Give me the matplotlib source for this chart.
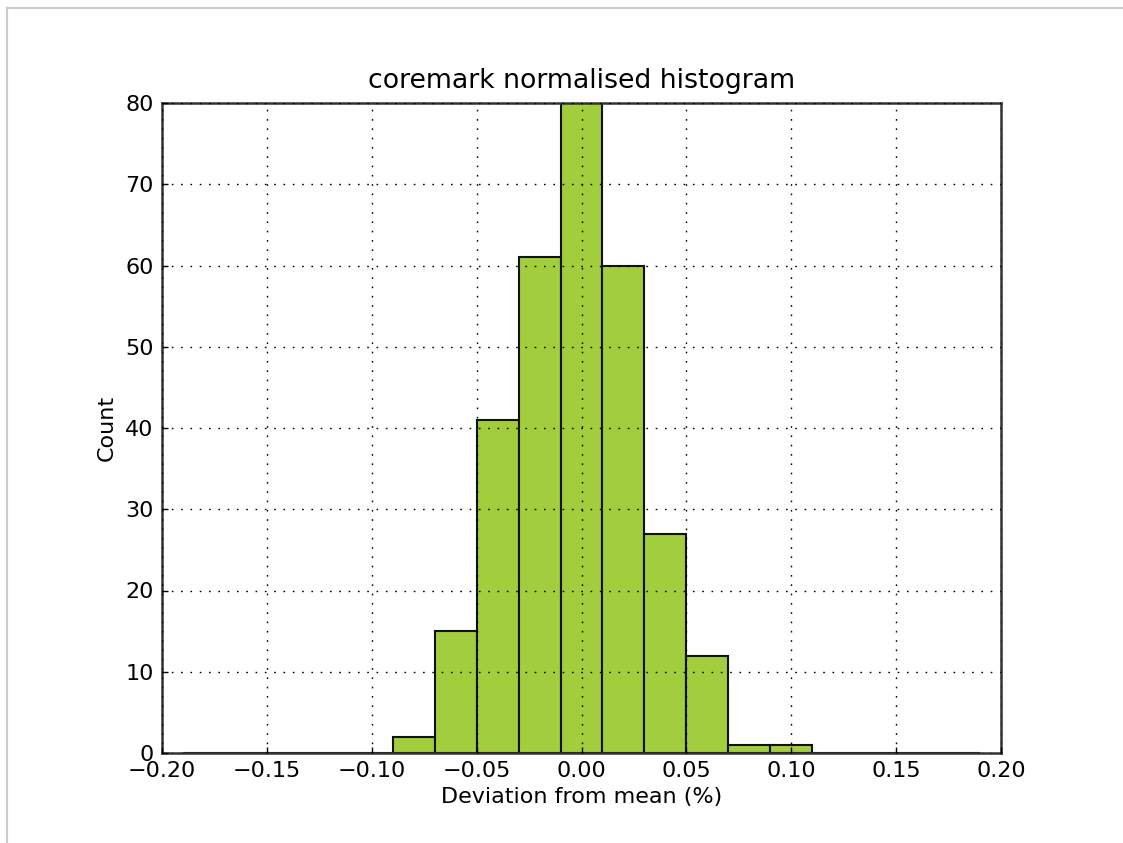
import matplotlib
matplotlib.use("Agg")
import matplotlib.pyplot as plt
from matplotlib.lines import Line2D
import numpy as np

# Data
bin_edges = [-0.19, -0.17, -0.15, -0.13, -0.11, -0.09, -0.07, -0.05, -0.03, -0.01,
             0.01, 0.03, 0.05, 0.07, 0.09, 0.11, 0.13, 0.15, 0.17, 0.19]
counts = [0, 0, 0, 0, 0, 2, 15, 41, 61, 80, 60, 27, 12, 1, 1, 0, 0, 0, 0]
x_ticks = [-0.20, -0.15, -0.10, -0.05, 0.00, 0.05, 0.10, 0.15, 0.20]
y_ticks = [0, 10, 20, 30, 40, 50, 60, 70, 80]
title = "coremark normalised histogram"
xlabel = "Deviation from mean (%)"
ylabel = "Count"

W, H = 1123, 843
fig = plt.figure(figsize=(W / 100, H / 100), dpi=100)
fig.patch.set_facecolor("white")

# light frame lines (top and left) as in the screenshot
fig.add_artist(Line2D([7 / W, 1], [1 - 7.5 / H, 1 - 7.5 / H], color="#cccccc", lw=1.5,
                      transform=fig.transFigure))
fig.add_artist(Line2D([7 / W, 7 / W], [0, 1 - 7.5 / H], color="#cccccc", lw=1.5,
                      transform=fig.transFigure))

left, right, top, bottom = 162, 1001, 103, 753
ax = fig.add_axes([left / W, 1 - bottom / H, (right - left) / W, (bottom - top) / H])

centers = [(bin_edges[i] + bin_edges[i + 1]) / 2 for i in range(len(counts))]
ax.hist(centers, bins=bin_edges, weights=counts, color="#a2ce3e",
        edgecolor="#111111", linewidth=1.5)

ax.set_xlim(-0.20, 0.20)
ax.set_ylim(0, 80)
ax.set_xticks(x_ticks)
ax.set_yticks(y_ticks)
ax.set_xticklabels([f"{v:.2f}".replace("-", "\u2212") for v in x_ticks])
ax.set_axisbelow(False)
ax.grid(True, linestyle=(0, (1.2, 5.5)), color="black", linewidth=1.0)

for s in ax.spines.values():
    s.set_color("#333333")
    s.set_linewidth(1.8)

ax.tick_params(direction="in", length=4, width=1, labelsize=16, colors="black", pad=6)
ax.set_title(title, fontsize=19.3, pad=11)
ax.set_xlabel(xlabel, fontsize=16, labelpad=4)
ax.set_ylabel(ylabel, fontsize=16, labelpad=6)

fig.savefig("out.png", dpi=100, facecolor="white")
